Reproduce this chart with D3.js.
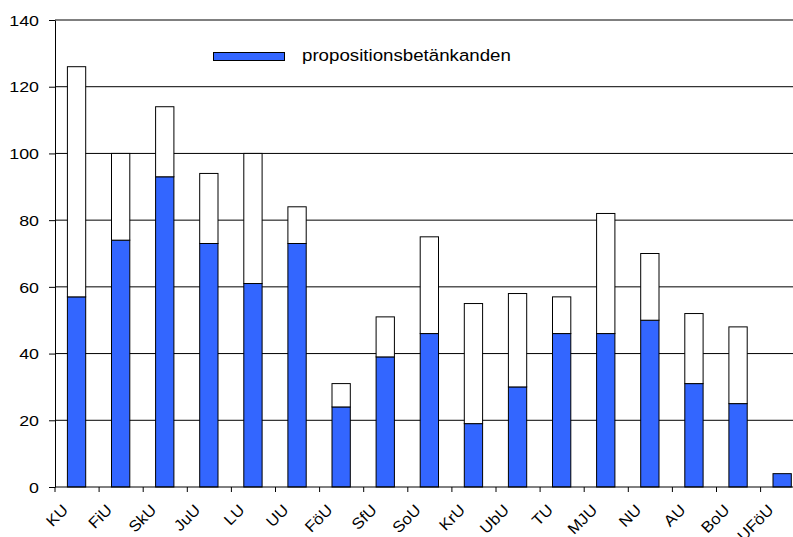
<!DOCTYPE html>
<html>
<head>
<meta charset="utf-8">
<script src="https://cdn.jsdelivr.net/npm/d3@7"></script>
<style>
  html, body { margin: 0; padding: 0; background: #fff; }
  svg { display: block; }
  text { font-family: "Liberation Sans", Arial, sans-serif; fill: #000; }
</style>
</head>
<body>
<svg id="chart" width="793" height="537"></svg>
<script>
// Utskott (committees)
const categories = ["KU","FiU","SkU","JuU","LU","UU","FöU","SfU","SoU","KrU","UbU","TU","MJU","NU","AU","BoU","UFöU"];
// Betänkanden med anledning av propositioner
const propBet = [57,74,93,73,61,73,24,39,46,19,30,46,46,50,31,25,4];
// Övriga betänkanden (stacked on top)
const ovrigaBet = [69,26,21,21,39,11,7,12,29,36,28,11,36,20,21,23,0];
// Y-axis ticks
const yTicks = [0,20,40,60,80,100,120,140];

const plotLeft = 55, plotTop = 20, plotBottom = 487;
const step = 44.1;
const plotRight = plotLeft + step * categories.length;

const svg = d3.select("#chart");

const x = d3.scaleBand().domain(categories).range([plotLeft, plotRight]).padding(0);
const y = d3.scaleLinear().domain([0, 140]).range([plotBottom, plotTop]);

const table = categories.map((c, i) => ({ cat: c, prop: propBet[i], ovriga: ovrigaBet[i] }));
const series = d3.stack().keys(["prop", "ovriga"])(table);

// Gridlines
svg.append("g").selectAll("line")
  .data(yTicks.filter(t => t > 0))
  .join("line")
  .attr("x1", plotLeft).attr("x2", plotRight)
  .attr("y1", d => y(d)).attr("y2", d => y(d))
  .attr("stroke", "#000").attr("stroke-width", 1);

// Bars
const barW = 18.3;
const fills = { prop: "#3366ff", ovriga: "#ffffff" };
series.forEach(s => {
  svg.append("g").selectAll("rect")
    .data(s.filter(d => d[1] - d[0] > 0))
    .join("rect")
    .attr("x", d => x(d.data.cat) + x.bandwidth() / 2 - 0.5 - barW / 2)
    .attr("width", barW)
    .attr("y", d => y(d[1]))
    .attr("height", d => y(d[0]) - y(d[1]))
    .attr("fill", fills[s.key])
    .attr("stroke", "#000")
    .attr("stroke-width", 1);
});

// Y axis
const yAxis = svg.append("g")
  .attr("transform", `translate(${plotLeft},0)`)
  .call(d3.axisLeft(y).tickValues(yTicks).tickSize(6).tickSizeOuter(0));
yAxis.select(".domain").attr("stroke", "#000");
yAxis.selectAll(".tick line").attr("stroke", "#000");
yAxis.selectAll(".tick text")
  .attr("x", 0)
  .attr("dy", "0.34em")
  .attr("font-size", 15.5)
  .attr("font-family", "Liberation Sans, Arial, sans-serif")
  .attr("transform", "translate(-16,0) scale(1.15,1)");

// X axis line and ticks at category boundaries
svg.append("line")
  .attr("x1", plotLeft).attr("x2", plotRight)
  .attr("y1", y(0)).attr("y2", y(0))
  .attr("stroke", "#000");
const boundaries = categories.map(c => x(c));
svg.append("g").selectAll("line")
  .data(boundaries)
  .join("line")
  .attr("x1", d => d).attr("x2", d => d)
  .attr("y1", y(0)).attr("y2", y(0) + 5)
  .attr("stroke", "#000");

// X labels, rotated
svg.append("g").selectAll("text")
  .data(categories)
  .join("text")
  .attr("text-anchor", "end")
  .attr("font-size", 15.5)
  .attr("transform", d => `translate(${x(d) + x.bandwidth() / 2 - 8},${y(0) + 24}) rotate(-45) scale(1.08,1)`)
  .text(d => d);

// Legend
const legend = svg.append("g");
legend.append("rect")
  .attr("x", 213.5).attr("y", 52.5)
  .attr("width", 71).attr("height", 8)
  .attr("fill", fills.prop).attr("stroke", "#000").attr("stroke-width", 1);
legend.append("text")
  .attr("transform", "translate(302,60.5) scale(1.1,1)")
  .attr("font-size", 17)
  .text("propositionsbetänkanden");
</script>
</body>
</html>
